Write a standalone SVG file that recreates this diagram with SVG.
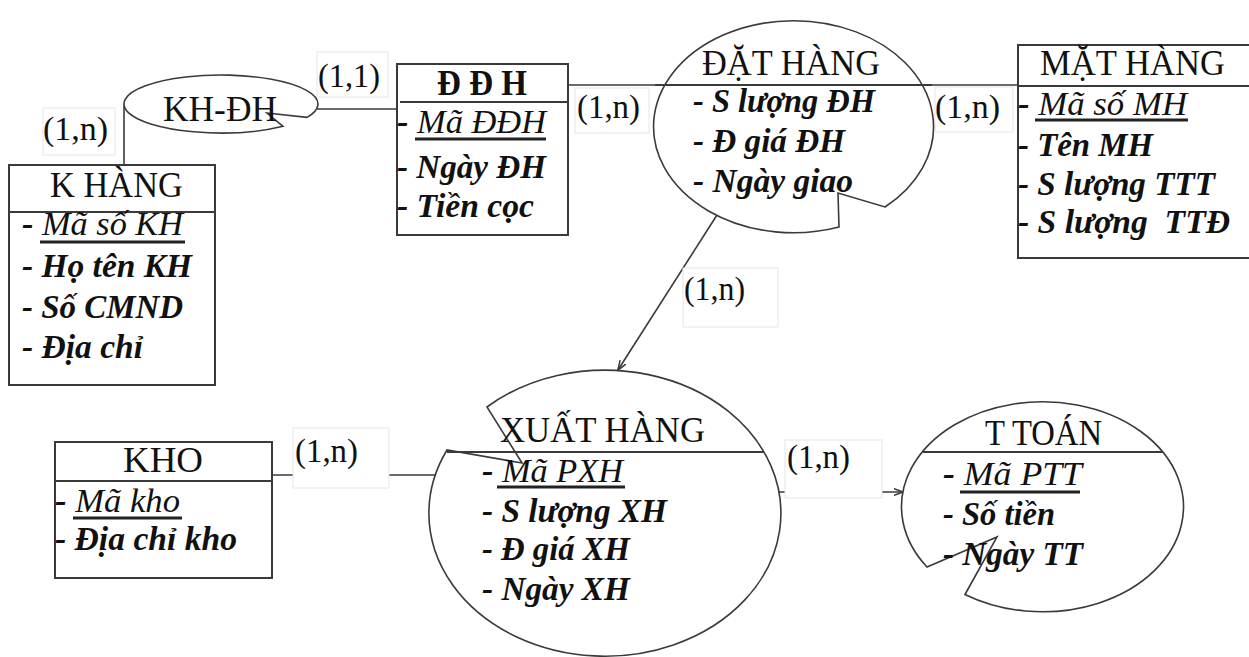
<svg xmlns="http://www.w3.org/2000/svg" width="1249" height="657" viewBox="0 0 1249 657">
  <style>
    .shape { fill: #fff; stroke: #3a3a3a; stroke-width: 1.6; }
    .box { fill: #fff; stroke: #3a3a3a; stroke-width: 2; }
    .sep { stroke: #3a3a3a; stroke-width: 1.8; }
    .line { fill: none; stroke: #3a3a3a; stroke-width: 1.6; }
    .uline { stroke: #222; stroke-width: 3; }
    .lblbox { fill: #fff; stroke: #e6e6e6; stroke-width: 1; }
    text { font-family: "Liberation Serif", "Times New Roman", serif; fill: #111; }
    .title { font-size: 35px; }
    .bold { font-weight: bold; }
    .attr { font-size: 33px; font-style: italic; font-weight: bold; }
    .key { font-size: 33px; font-style: italic; }
    .card { font-size: 33px; }
  </style>
  <defs>
    <marker id="arrow" viewBox="0 0 10 8" refX="9.5" refY="4" markerWidth="10" markerHeight="8" markerUnits="userSpaceOnUse" orient="auto">
      <path d="M0,0.5 L10,4 L0,7.5" fill="none" stroke="#3a3a3a" stroke-width="1.5"/>
    </marker>
  </defs>

  <!-- connectors -->
  <g id="connectors">
    <line class="line" x1="124" y1="106" x2="124" y2="165"/>
    <line class="line" x1="317" y1="109" x2="397" y2="109"/>
    <line class="line" x1="568" y1="85" x2="1018" y2="85"/>
    <line class="line" x1="717" y1="215" x2="618" y2="370" marker-end="url(#arrow)"/>
    <line class="line" x1="272" y1="475" x2="436" y2="475"/>
    <line class="line" x1="779" y1="492" x2="903" y2="492" marker-end="url(#arrow)"/>
  </g>

  <!-- cardinality labels -->
  <g id="cardinalities">
    <rect class="lblbox" x="317" y="52" width="71" height="45"/>
    <text class="card" x="318" y="87" textLength="62" lengthAdjust="spacingAndGlyphs">(1,1)</text>
    <rect class="lblbox" x="43" y="108" width="72" height="47"/>
    <text class="card" x="43" y="140" textLength="65" lengthAdjust="spacingAndGlyphs">(1,n)</text>
    <rect class="lblbox" x="575" y="88" width="74" height="45"/>
    <text class="card" x="577" y="118" textLength="63" lengthAdjust="spacingAndGlyphs">(1,n)</text>
    <rect class="lblbox" x="935" y="87" width="78" height="45"/>
    <text class="card" x="935" y="118" textLength="65" lengthAdjust="spacingAndGlyphs">(1,n)</text>
    <rect class="lblbox" x="683" y="268" width="95" height="59"/>
    <text class="card" x="684" y="300" textLength="61" lengthAdjust="spacingAndGlyphs">(1,n)</text>
    <rect class="lblbox" x="293" y="428" width="96" height="60"/>
    <text class="card" x="295" y="462" textLength="63" lengthAdjust="spacingAndGlyphs">(1,n)</text>
    <rect class="lblbox" x="785" y="440" width="97" height="58"/>
    <text class="card" x="787" y="468" textLength="63" lengthAdjust="spacingAndGlyphs">(1,n)</text>
  </g>

  <!-- relationship KH-ĐH -->
  <g id="kh-dh">
    <path class="shape" d="M307,117.4 A97,29 0 1 0 283,126.3 L267,113 Z"/>
    <text class="title" x="163" y="121" textLength="114" lengthAdjust="spacingAndGlyphs">KH-ĐH</text>
  </g>

  <!-- entity K HÀNG -->
  <g id="k-hang">
    <rect class="box" x="9" y="165" width="206" height="220"/>
    <line class="sep" x1="9" y1="212" x2="215" y2="212"/>
    <text class="title" x="50" y="197" textLength="133" lengthAdjust="spacingAndGlyphs">K HÀNG</text>
    <text class="key" x="22" y="235" textLength="161" lengthAdjust="spacingAndGlyphs"><tspan font-weight="bold">- </tspan>Mã số KH</text>
    <line class="uline" x1="40" y1="242" x2="185" y2="242"/>
    <text class="attr" x="22" y="277" textLength="170" lengthAdjust="spacingAndGlyphs">- Họ tên KH</text>
    <text class="attr" x="22" y="318" textLength="161" lengthAdjust="spacingAndGlyphs">- Số CMND</text>
    <text class="attr" x="22" y="358" textLength="121" lengthAdjust="spacingAndGlyphs">- Địa chỉ</text>
  </g>

  <!-- entity Đ Đ H -->
  <g id="ddh">
    <rect class="box" x="397" y="64" width="171" height="171"/>
    <line class="sep" x1="400" y1="102" x2="568" y2="102"/>
    <text class="title bold" x="437" y="95" textLength="90" lengthAdjust="spacingAndGlyphs">Đ Đ H</text>
    <text class="key" x="397" y="133" textLength="149" lengthAdjust="spacingAndGlyphs"><tspan font-weight="bold">- </tspan>Mã ĐĐH</text>
    <line class="uline" x1="415" y1="139" x2="546" y2="139"/>
    <text class="attr" x="397" y="178" textLength="149" lengthAdjust="spacingAndGlyphs">- Ngày ĐH</text>
    <text class="attr" x="397" y="217" textLength="137" lengthAdjust="spacingAndGlyphs">- Tiền cọc</text>
  </g>

  <!-- relationship ĐẶT HÀNG -->
  <g id="dat-hang">
    <path class="shape" d="M885,207 A140,106 0 1 0 839,227 L838,193 Z"/>
    <line class="sep" x1="655" y1="85" x2="932" y2="85"/>
    <text class="title" x="702" y="75" textLength="178" lengthAdjust="spacingAndGlyphs">ĐẶT HÀNG</text>
    <text class="attr" x="693" y="112" textLength="182" lengthAdjust="spacingAndGlyphs">- S lượng ĐH</text>
    <text class="attr" x="693" y="152" textLength="152" lengthAdjust="spacingAndGlyphs">- Đ giá ĐH</text>
    <text class="attr" x="693" y="192" textLength="160" lengthAdjust="spacingAndGlyphs">- Ngày giao</text>
  </g>

  <!-- entity MẶT HÀNG -->
  <g id="mat-hang">
    <rect class="box" x="1018" y="45" width="240" height="213"/>
    <line class="sep" x1="1018" y1="86" x2="1249" y2="86"/>
    <text class="title" x="1040" y="75" textLength="185" lengthAdjust="spacingAndGlyphs">MẶT HÀNG</text>
    <text class="key" x="1018" y="115" textLength="169" lengthAdjust="spacingAndGlyphs"><tspan font-weight="bold">- </tspan>Mã số MH</text>
    <line class="uline" x1="1035" y1="120" x2="1188" y2="120"/>
    <text class="attr" x="1018" y="156" textLength="135" lengthAdjust="spacingAndGlyphs">- Tên MH</text>
    <text class="attr" x="1018" y="195" textLength="197" lengthAdjust="spacingAndGlyphs">- S lượng TTT</text>
    <text class="attr" x="1018" y="233" textLength="212" lengthAdjust="spacingAndGlyphs" style="white-space:pre">- S lượng  TTĐ</text>
  </g>

  <!-- entity KHO -->
  <g id="kho">
    <rect class="box" x="55" y="442" width="217" height="136"/>
    <line class="sep" x1="55" y1="481" x2="272" y2="481"/>
    <text class="title" x="123" y="472" textLength="80" lengthAdjust="spacingAndGlyphs">KHO</text>
    <text class="key" x="55" y="512" textLength="125" lengthAdjust="spacingAndGlyphs"><tspan font-weight="bold">- </tspan>Mã kho</text>
    <line class="uline" x1="73" y1="518" x2="182" y2="518"/>
    <text class="attr" x="55" y="550" textLength="182" lengthAdjust="spacingAndGlyphs">- Địa chỉ kho</text>
  </g>

  <!-- relationship XUẤT HÀNG -->
  <g id="xuat-hang">
    <path class="shape" d="M487,407 A176,143 0 1 1 447,450 L522,463 Z"/>
    <line class="sep" x1="447" y1="452" x2="764" y2="452"/>
    <text class="title" x="500" y="442" textLength="205" lengthAdjust="spacingAndGlyphs">XUẤT HÀNG</text>
    <text class="key" x="482" y="482" textLength="141" lengthAdjust="spacingAndGlyphs"><tspan font-weight="bold">- </tspan>Mã PXH</text>
    <line class="uline" x1="497" y1="487" x2="625" y2="487"/>
    <text class="attr" x="482" y="522" textLength="185" lengthAdjust="spacingAndGlyphs">- S lượng XH</text>
    <text class="attr" x="482" y="560" textLength="148" lengthAdjust="spacingAndGlyphs">- Đ giá XH</text>
    <text class="attr" x="482" y="600" textLength="148" lengthAdjust="spacingAndGlyphs">- Ngày XH</text>
  </g>

  <!-- relationship T TOÁN -->
  <g id="t-toan">
    <path class="shape" d="M965,594.5 A141,105 0 1 0 927,567 L997,537 Z"/>
    <line class="sep" x1="923" y1="452" x2="1163" y2="452"/>
    <text class="title" x="985" y="445" textLength="117" lengthAdjust="spacingAndGlyphs">T TOÁN</text>
    <text class="key" x="943" y="485" textLength="139" lengthAdjust="spacingAndGlyphs"><tspan font-weight="bold">- </tspan>Mã PTT</text>
    <line class="uline" x1="960" y1="492" x2="1080" y2="492"/>
    <text class="attr" x="943" y="525" textLength="112" lengthAdjust="spacingAndGlyphs">- Số tiền</text>
    <text class="attr" x="943" y="565" textLength="140" lengthAdjust="spacingAndGlyphs">- Ngày TT</text>
  </g>
</svg>
